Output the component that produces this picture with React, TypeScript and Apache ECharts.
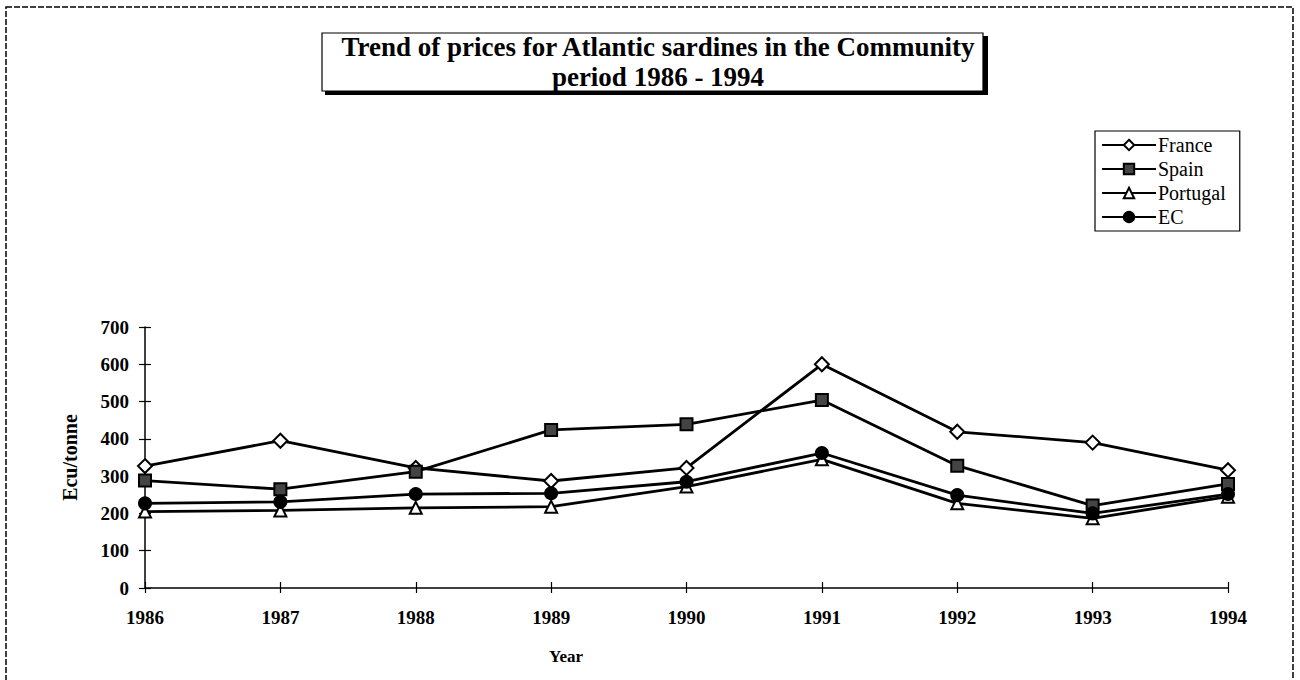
import React, { useEffect, useRef } from "react";
import * as echarts from "echarts";

const years = ["1986", "1987", "1988", "1989", "1990", "1991", "1992", "1993", "1994"];
const france = [327, 395, 322, 287, 322, 600, 419, 390, 316];
const spain = [288, 265, 312, 424, 439, 504, 328, 221, 279];
const portugal = [205, 208, 215, 218, 272, 345, 227, 187, 245];
const ec = [227, 231, 252, 254, 285, 362, 249, 200, 252];
const yTicks = [0, 100, 200, 300, 400, 500, 600, 700];

const FONT = "Liberation Serif";

export default function App() {
  const ref = useRef<HTMLDivElement>(null);
  useEffect(() => {
    if (!ref.current) return;
    const chart = echarts.init(ref.current, null, { renderer: "svg" });
    const mk = (name: string, data: number[], symbol: string, fill: string, size: number) => ({
      name,
      type: "line",
      data,
      symbol,
      symbolSize: size,
      xAxisIndex: 0,
      yAxisIndex: 0,
      lineStyle: { color: "#000", width: 2.8 },
      itemStyle: { color: fill, borderColor: "#000", borderWidth: 2 },
      emphasis: { disabled: true },
    });
    const lab = { fontFamily: FONT, fontWeight: "bold", fontSize: 19, color: "#000" };
    chart.setOption({
      animation: false,
      backgroundColor: "#fff",
      title: {
        text: "Trend of prices for Atlantic sardines in the Community\nperiod 1986 - 1994",
        left: 653,
        top: 27,
        textAlign: "center",
        textStyle: { fontFamily: FONT, fontWeight: "bold", fontSize: 27, lineHeight: 30, color: "#000" },
      },
      graphic: [
        { type: "rect", shape: { x: 6, y: 7, width: 1287, height: 690 }, style: { fill: "none", stroke: "#000", lineWidth: 1.5, lineDash: [6, 2] }, z: -1 },
        { type: "rect", shape: { x: 325, y: 36, width: 663, height: 59 }, style: { fill: "#000" }, z: -1 },
        { type: "rect", shape: { x: 322, y: 33, width: 661, height: 58 }, style: { fill: "#fff", stroke: "#000", lineWidth: 1.2 }, z: -1 },
        {
          type: "text",
          x: 566,
          y: 656,
          style: { text: "Year", fontFamily: FONT, fontWeight: "bold", fontSize: 17, fill: "#000", align: "center", verticalAlign: "middle" },
        },
      ],
      legend: {
        orient: "vertical",
        left: 1095,
        top: 131,
        itemGap: 4,
        itemWidth: 54,
        itemHeight: 13,
        padding: [4, 14, 4, 6],
        borderColor: "#000",
        borderWidth: 1.2,
        textStyle: { fontFamily: FONT, fontSize: 20, color: "#000", padding: [0, 0, 0, -3] },
        data: ["France", "Spain", "Portugal", "EC"],
      },
      grid: { left: 145, right: 72, top: 327, bottom: 92 },
      xAxis: [
        {
          type: "category",
          data: years,
          boundaryGap: false,
          axisLine: { lineStyle: { color: "#000", width: 1.5 } },
          axisTick: { show: true, inside: true, length: 6, lineStyle: { color: "#000", width: 1.2 } },
          axisLabel: { ...lab, margin: 20 },
          splitLine: { show: false },
        },
        {
          type: "category",
          data: years,
          boundaryGap: false,
          position: "bottom",
          axisLine: { show: false },
          axisTick: { show: true, inside: false, length: 5, lineStyle: { color: "#000", width: 1.2 } },
          axisLabel: { show: false },
          splitLine: { show: false },
        },
      ],
      yAxis: [
        {
          type: "value",
          min: 0,
          max: 700,
          interval: 100,
          name: "Ecu/tonne",
          nameLocation: "middle",
          nameGap: 65,
          nameRotate: 90,
          nameTextStyle: { fontFamily: FONT, fontWeight: "bold", fontSize: 20, color: "#000" },
          axisLine: { show: true, lineStyle: { color: "#000", width: 1.5 } },
          axisTick: { show: true, length: 6, lineStyle: { color: "#000", width: 1.2 } },
          axisLabel: {
            ...lab,
            margin: 16,
            formatter: (v: number) => (yTicks.includes(v) ? String(v) : ""),
          },
          splitLine: { show: false },
        },
        {
          type: "value",
          min: 0,
          max: 700,
          interval: 100,
          position: "left",
          axisLine: { show: false },
          axisTick: { show: true, inside: true, length: 6, lineStyle: { color: "#000", width: 1.2 } },
          axisLabel: { show: false },
          splitLine: { show: false },
        },
      ],
      series: [
        mk("France", france, "diamond", "#fff", 14),
        mk("Spain", spain, "rect", "#444", 12),
        mk("Portugal", portugal, "triangle", "#fff", 12),
        mk("EC", ec, "circle", "#000", 12),
      ],
    });
    return () => chart.dispose();
  }, []);
  return <div ref={ref} style={{ position: "fixed", left: 0, top: 0, width: 1300, height: 680 }} />;
}
